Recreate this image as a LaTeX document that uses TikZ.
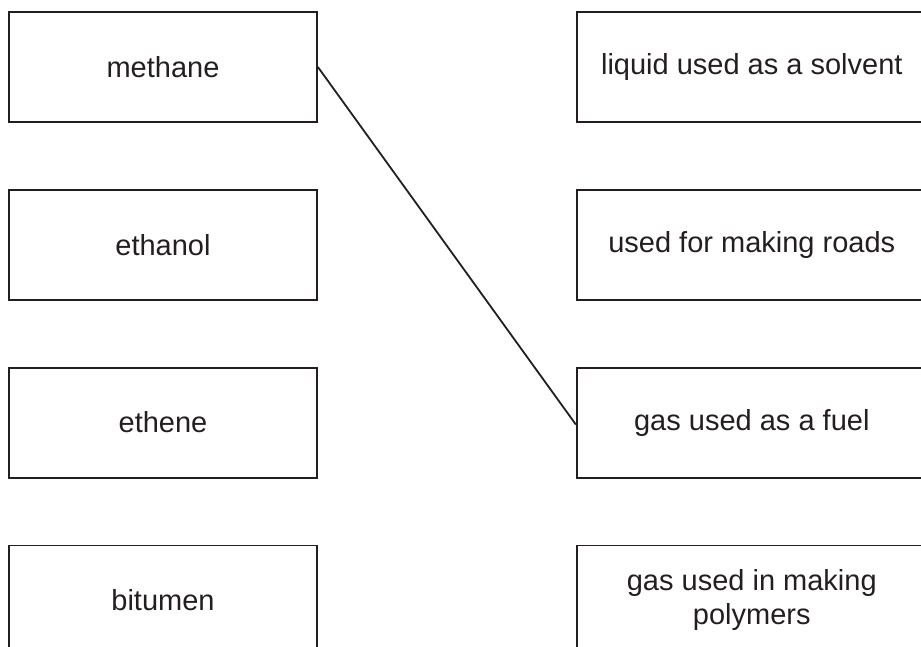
\documentclass[tikz,border=0pt]{standalone}
\usepackage{fontspec}
\setmainfont{Liberation Sans}
\usetikzlibrary{positioning}
\definecolor{ink}{HTML}{231F20}
\tikzstyle{item} = [rectangle, line width=1.8pt, draw=ink, text=ink, minimum width=308pt, minimum height=110pt, align=center, font=\fontsize{29}{34}\selectfont]
\tikzstyle{use} = [item, minimum width=350pt]
\tikzstyle{link} = [line width=1.8pt, draw=ink]

\begin{document}
\begin{tikzpicture}[node distance = 66pt]
		\useasboundingbox (0,0) rectangle (921pt,-646pt);
		\clip (0,0) rectangle (921pt,-646pt);
		\node (Methane) [item] at (163pt,-67pt) {methane};
		\node (Ethanol) [item, below = of Methane] {ethanol};
		\node (Ethene) [item, below = of Ethanol] {ethene};
		\node (Bitumen) [item, below = of Ethene] {bitumen};
		\node (Solvent) [use, right = 258pt of Methane] {liquid used as a solvent};
		\node (Roads) [use, below = of Solvent] {used for making roads};
		\node (Fuel) [use, below = of Roads] {gas used as a fuel};
		\node (Polymers) [use, below = of Fuel] {gas used in making\\polymers};
		\draw [link] (Methane.east) -- ([yshift=-2pt]Fuel.west);
\end{tikzpicture}
\end{document}
